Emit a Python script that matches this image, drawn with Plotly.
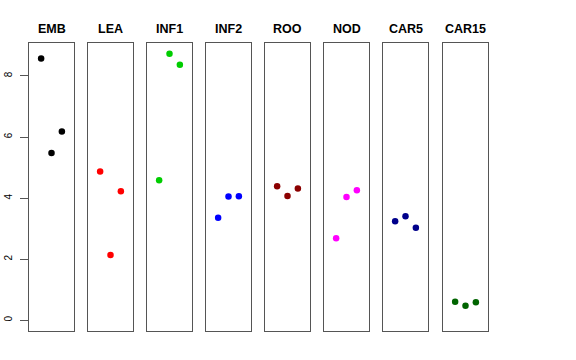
import plotly.graph_objects as go

categories = ["EMB", "LEA", "INF1", "INF2", "ROO", "NOD", "CAR5", "CAR15"]
values = {
    "EMB":   [8.57, 5.48, 6.18],
    "LEA":   [4.87, 2.14, 4.23],
    "INF1":  [4.59, 8.73, 8.37],
    "INF2":  [3.36, 4.05, 4.06],
    "ROO":   [4.39, 4.07, 4.32],
    "NOD":   [2.69, 4.04, 4.26],
    "CAR5":  [3.24, 3.41, 3.03],
    "CAR15": [0.61, 0.48, 0.59],
}
colors = ["#000000", "#FF0000", "#00CD00", "#0000FF", "#8B0000", "#FF00FF", "#00008B", "#006400"]
replicate_x = [-1, 0, 1]
y_ticks = [0, 2, 4, 6, 8]

W, H = 576, 360
panel_left = [29, 88, 147, 206, 265, 324, 383, 443]
panel_w = 45
top_px, bot_px = 42.7, 331

fig = go.Figure()
annotations = []
for i, cat in enumerate(categories):
    n = i + 1
    xa = "x" if n == 1 else f"x{n}"
    ya = "y" if n == 1 else f"y{n}"
    fig.add_trace(go.Scatter(
        x=replicate_x, y=values[cat], mode="markers",
        marker=dict(color=colors[i], size=6.5, line=dict(width=0)),
        xaxis=xa, yaxis=ya, showlegend=False, hoverinfo="skip"))
    dom = [panel_left[i] / W, (panel_left[i] + panel_w) / W]
    xkey = "xaxis" if n == 1 else f"xaxis{n}"
    ykey = "yaxis" if n == 1 else f"yaxis{n}"
    fig.layout[xkey] = dict(domain=dom, range=[-2.17, 2.17], showgrid=False, zeroline=False,
                            showticklabels=False, ticks="", showline=True, mirror=True,
                            linecolor="#555555", linewidth=1, anchor=ya, automargin=False)
    ycfg = dict(domain=[(H - bot_px) / H, (H - top_px) / H], range=[-0.35, 9.09],
                showgrid=False, zeroline=False, showline=True, mirror=True,
                linecolor="#555555", linewidth=1, anchor=xa, automargin=False)
    if n == 1:
        ycfg.update(tickvals=y_ticks, ticktext=[str(v) for v in y_ticks], ticks="outside",
                    ticklen=8, tickcolor="#555555", tickangle=-90,
                    tickfont=dict(family="Liberation Sans, Arial, sans-serif", size=10, color="#000000"),
                    ticklabelstandoff=4)
    else:
        ycfg.update(showticklabels=False, ticks="")
    fig.layout[ykey] = ycfg
    annotations.append(dict(text=f"<b>{cat}</b>", x=(panel_left[i] + panel_w / 2) / W,
                            y=(H - 28.5) / H, xref="paper", yref="paper",
                            xanchor="center", yanchor="middle", showarrow=False,
                            font=dict(family="Liberation Sans, Arial, sans-serif", size=12.5, color="#000000")))

fig.update_layout(width=W, height=H, margin=dict(l=0, r=0, t=0, b=0),
                  paper_bgcolor="white", plot_bgcolor="white", annotations=annotations)
fig.write_html("out.html", config={"displayModeBar": False},
               post_script="document.body.style.margin='0';document.body.style.padding='0';")
